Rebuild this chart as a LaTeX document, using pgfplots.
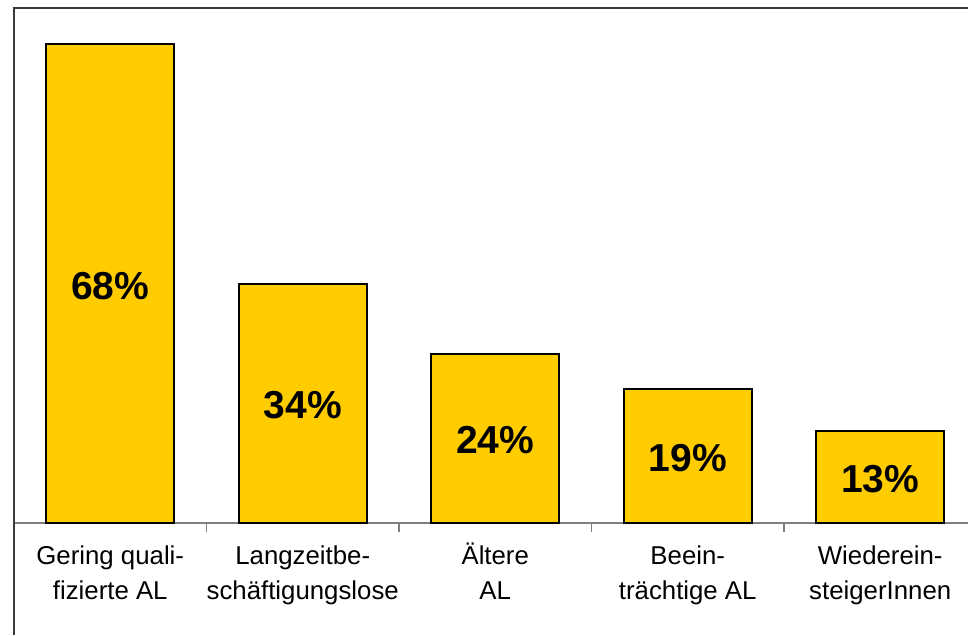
\documentclass[border=0pt]{standalone}
\usepackage{pgfplots}
\pgfplotsset{compat=1.18}
\usepackage{fontspec}
\setmainfont{Liberation Sans}
\definecolor{barfill}{HTML}{FFCC00}
\definecolor{framegray}{HTML}{3A3A3A}

\begin{document}
\begin{tikzpicture}
    \begin{axis}[
        scale only axis,
        width=477pt,
        height=257.5pt,
        xmin=-0.5, xmax=4.456,
        ymin=0, ymax=73.15,
        axis x line*=bottom,
        axis y line=none,
        x axis line style={gray, line width=0.6pt},
        xtick={-0.5,0.5,1.5,2.5,3.5},
        xticklabels={},
        tick align=outside,
        major tick length=4.5pt,
        x tick style={gray, line width=0.6pt},
        ytick=\empty,
        extra x ticks={0,1,2,3,4},
        extra x tick labels={{\strut Gering quali-\\\strut fizierte AL},{\strut Langzeitbe-\\\strut schäftigungslose},{\strut Ältere\\\strut AL},{\strut Beein-\\\strut trächtige AL},{\strut Wiederein-\\\strut steigerInnen}},
        extra x tick style={major tick length=0pt, tick style={draw=none},
            xticklabel style={align=center, font=\fontsize{12.9}{17.5}\selectfont, yshift=-5pt}},
        clip=false,
    ]
        \addplot[ybar, bar width=0.665, fill=barfill, draw=black, line width=1pt]
            coordinates {(0,68) (1,34) (2,24) (3,19) (4,13)};

        \addplot[draw=none, mark=none, nodes near coords, point meta=explicit symbolic,
            nodes near coords style={anchor=center, yshift=-1pt, font=\bfseries\fontsize{19.5}{20}\selectfont}]
            coordinates {(0,34) [68\%] (1,17) [34\%] (2,12) [24\%] (3,9.5) [19\%] (4,6.5) [13\%]};

        \draw[framegray, line width=1pt] (axis description cs:0,-0.2175) -- (axis description cs:0,1) -- (axis description cs:1,1);
        \coordinate (bbtl) at (axis description cs:-0.01468,1.01553);
        \coordinate (bbbr) at (axis description cs:1,-0.2175);
    \end{axis}
    \pgfresetboundingbox
    \path (bbtl) rectangle (bbbr);
\end{tikzpicture}
\end{document}
